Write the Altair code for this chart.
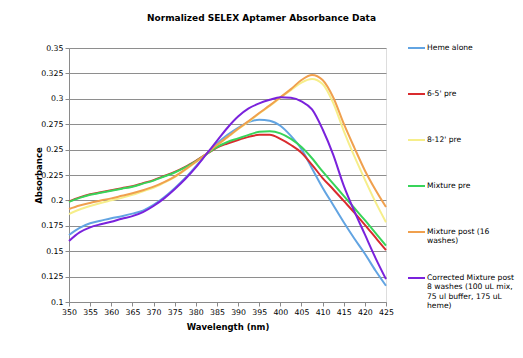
import altair as alt
import pandas as pd

wavelength = [350, 352.5, 355, 357.5, 360, 362.5, 365, 367.5, 370, 372.5, 375, 377.5,
              380, 382.5, 385, 387.5, 390, 392.5, 395, 397.5, 400, 402.5, 405, 407.5,
              410, 412.5, 415, 417.5, 420, 422.5, 425]

series_names = ["Heme alone", "6-5' pre", "8-12' pre", "Mixture pre",
                "Mixture post (16 washes)",
                "Corrected Mixture post 8 washes (100 uL mix, 75 ul buffer, 175 uL heme)"]
legend_labels = ["Heme alone", "6-5' pre", "8-12' pre", "Mixture pre",
                 "Mixture post (16\nwashes)",
                 "Corrected Mixture post\n8 washes (100 uL mix,\n75 ul buffer, 175 uL\nheme)"]
series_colors = ["#62A4E2", "#D92B2E", "#F6EE8A", "#38D45A", "#F0A04E", "#7A22DC"]

heme = [0.166, 0.173, 0.1775, 0.180, 0.1825, 0.1845, 0.187, 0.190, 0.1955, 0.203, 0.212, 0.222,
        0.2335, 0.2455, 0.256, 0.2645, 0.2715, 0.277, 0.2795, 0.2785, 0.2735, 0.2635, 0.2505, 0.2315,
        0.2125, 0.1955, 0.1785, 0.1625, 0.1475, 0.131, 0.116]
pre_65 = [0.199, 0.203, 0.206, 0.208, 0.210, 0.212, 0.214, 0.217, 0.220, 0.224, 0.228, 0.233,
          0.239, 0.2455, 0.252, 0.256, 0.2595, 0.2625, 0.2645, 0.2645, 0.2605, 0.2545, 0.247, 0.235,
          0.222, 0.211, 0.1995, 0.188, 0.176, 0.1635, 0.151]
pre_812 = [0.1865, 0.191, 0.1945, 0.1975, 0.200, 0.2025, 0.2055, 0.209, 0.2125, 0.2175, 0.223, 0.230,
           0.2375, 0.2455, 0.254, 0.262, 0.270, 0.2775, 0.2855, 0.293, 0.301, 0.3085, 0.316, 0.3195,
           0.3145, 0.296, 0.2685, 0.2435, 0.2205, 0.1985, 0.1785]
mix_pre = [0.1985, 0.2025, 0.2055, 0.2075, 0.2095, 0.2115, 0.2135, 0.2165, 0.2195, 0.2235, 0.2275, 0.2325,
           0.2385, 0.2455, 0.2525, 0.2575, 0.261, 0.2645, 0.2675, 0.268, 0.266, 0.2605, 0.2525, 0.2415,
           0.2285, 0.2165, 0.2045, 0.1925, 0.1805, 0.168, 0.1555]
mix_post = [0.1915, 0.195, 0.1975, 0.200, 0.202, 0.2045, 0.207, 0.210, 0.2135, 0.218, 0.2235, 0.2305,
            0.238, 0.246, 0.2545, 0.2625, 0.2705, 0.278, 0.286, 0.2935, 0.3015, 0.3095, 0.3185, 0.3235,
            0.3185, 0.3015, 0.2755, 0.252, 0.2295, 0.2105, 0.1935]
corrected = [0.160, 0.1685, 0.1735, 0.1765, 0.179, 0.182, 0.1845, 0.1885, 0.1945, 0.202, 0.211, 0.221,
             0.2325, 0.2455, 0.2585, 0.2715, 0.2825, 0.2905, 0.2955, 0.299, 0.3015, 0.301, 0.2975, 0.2895,
             0.270, 0.245, 0.2145, 0.1895, 0.1665, 0.1435, 0.1225]

all_values = [heme, pre_65, pre_812, mix_pre, mix_post, corrected]

x_ticks = [350, 355, 360, 365, 370, 375, 380, 385, 390, 395, 400, 405, 410, 415, 420, 425]
y_ticks = [0.1, 0.125, 0.15, 0.175, 0.2, 0.225, 0.25, 0.275, 0.3, 0.325, 0.35]

rows = []
for k, (name, vals) in enumerate(zip(series_names, all_values)):
    for w, v in zip(wavelength, vals):
        rows.append({"series": name, "order": k, "wl": w, "abs": v})
df = pd.DataFrame(rows)

leg_df = pd.DataFrame({"idx": list(range(len(series_names))),
                       "label": legend_labels,
                       "color": series_colors})

FONT = "DejaVu Sans"

lines = alt.Chart(df).mark_line(strokeWidth=2, interpolate="monotone").encode(
    x=alt.X("wl:Q", scale=alt.Scale(domain=[350, 425], nice=False, zero=False),
            axis=alt.Axis(values=x_ticks, format=".0f", grid=False, tickSize=4, labelPadding=2,
                          labelOverlap=False, labelFlush=False, labelFont=FONT, labelFontSize=7.8,
                          labelColor="black",
                          title="Wavelength (nm)", titleFont=FONT, titleFontSize=8.5,
                          titleFontWeight="bold", titleColor="black", titleY=24,
                          titleBaseline="middle", domainColor="#8A8A8A", tickColor="#8A8A8A")),
    y=alt.Y("abs:Q", scale=alt.Scale(domain=[0.1, 0.35], nice=False, zero=False),
            axis=alt.Axis(values=y_ticks, format=".3~g", grid=True, gridColor="#8E8E8E",
                          labelOverlap=False, labelFlush=False, tickSize=4, labelPadding=2,
                          labelFont=FONT, labelFontSize=7.8, labelColor="black",
                          title="Absorbance", titleFont=FONT,
                          titleFontSize=8.5, titleFontWeight="bold", titleColor="black",
                          titleX=-31, titleY=127, titleAngle=-90, titleAlign="center",
                          titleBaseline="middle", domainColor="#8A8A8A", tickColor="#8A8A8A")),
    color=alt.Color("series:N", scale=alt.Scale(domain=series_names, range=series_colors), legend=None),
    order=alt.Order("order:Q"),
)

leg_y = alt.Y("idx:Q", scale=alt.Scale(domain=[0, 5], range=[0, 230]), axis=None)

leg_rules = alt.Chart(leg_df).mark_rule(strokeWidth=2).encode(
    x=alt.value(339), x2=alt.value(356), y=leg_y,
    color=alt.Color("color:N", scale=None),
)
leg_text = alt.Chart(leg_df).mark_text(align="left", baseline="top", dy=-4.5, font=FONT,
                                       fontSize=7.6, lineBreak="\n", lineHeight=9.5,
                                       color="black").encode(
    x=alt.value(358), y=leg_y, text="label:N",
)

chart = alt.layer(lines, leg_rules, leg_text).resolve_scale(
    y="independent", color="independent"
).properties(
    width=317, height=254,
    title=alt.TitleParams("Normalized SELEX Aptamer Absorbance Data", font=FONT, fontSize=9,
                          fontWeight="bold", color="black", anchor="middle", dx=34, offset=21),
    autosize=alt.AutoSizeParams(type="none"),
    padding={"left": 61, "top": 40, "right": 129, "bottom": 48},
).configure_view(fill="#C9C9C9", stroke="#8A8A8A", strokeWidth=1).configure(background="white")

chart.save("out.html", embed_options={"renderer": "svg", "actions": False})
